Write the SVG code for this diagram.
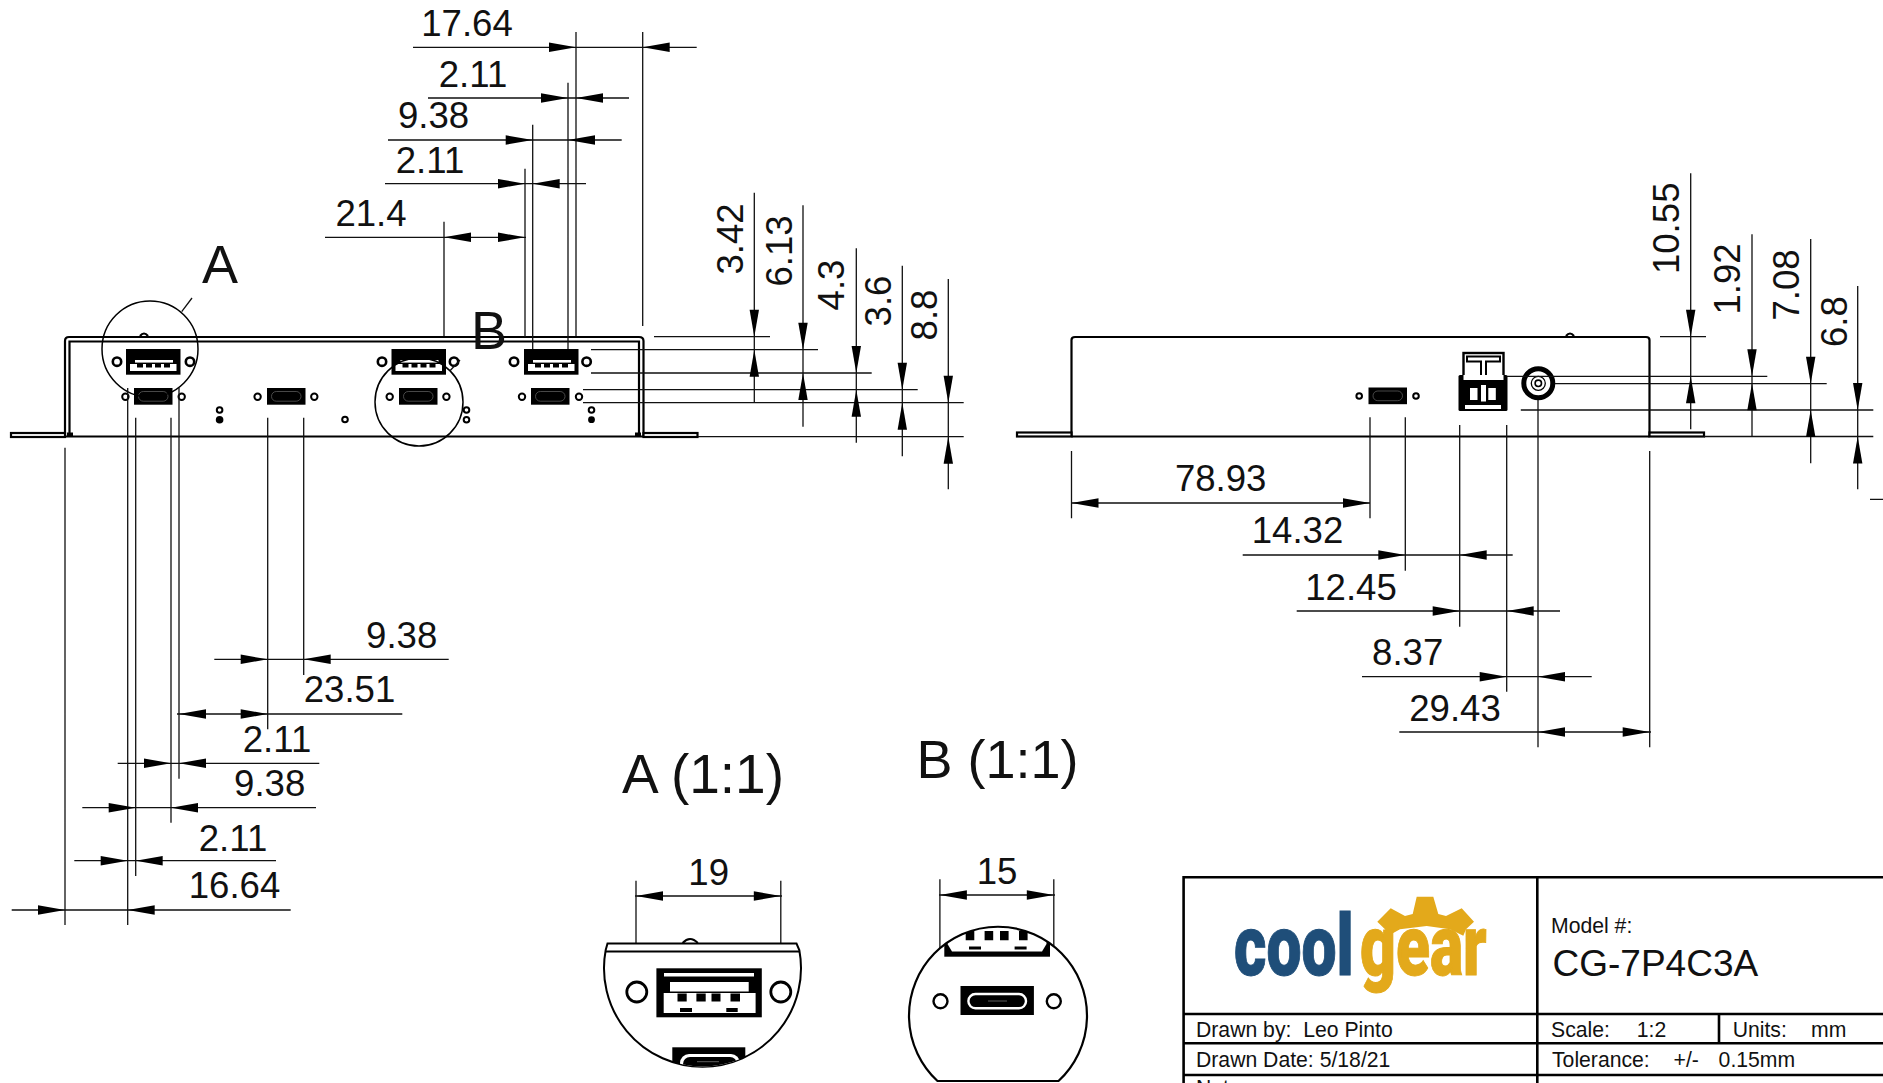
<svg xmlns="http://www.w3.org/2000/svg" width="1883" height="1083" viewBox="0 0 1883 1083">
<style>
text{font-family:"Liberation Sans",Arial,sans-serif;fill:#111;white-space:pre}
.d{font-size:36.6px;text-anchor:middle}
.b{font-size:54px}
.t{font-size:21.2px}
.l{stroke:#111;stroke-width:1.3;fill:none}
.k{stroke:#000;stroke-width:2.2;fill:none}
.w{stroke:#000;stroke-width:2.2;fill:#fff}
.h{stroke:#000;stroke-width:2.6;fill:#fff}
.hc{stroke:#000;stroke-width:2;fill:#fff}
.g{stroke:#000;stroke-width:2.6;fill:none}
</style>
<defs>
<path id="r" d="M0 0L-27 -4.7V4.7Z" fill="#000"/>
<path id="a" d="M0 0L27 -4.7V4.7Z" fill="#000"/>
<path id="n" d="M0 0L-4.7 -27H4.7Z" fill="#000"/>
<path id="u" d="M0 0L-4.7 27H4.7Z" fill="#000"/>
<g id="usba">
<rect width="54.5" height="25.7" fill="#000"/>
<rect x="9" y="11" width="38" height="2.6" fill="#fff"/>
<rect x="4" y="15" width="46.5" height="7" fill="#fff"/>
<path d="M11 15h6v3.5h-6zM20 15h6v3.5h-6zM29 15h6v3.5h-6zM38 15h6v3.5h-6z" fill="#000"/>
</g>
<g id="usbc">
<rect width="38.5" height="16.7" fill="#000"/>
<rect x="4.5" y="3.5" width="29.5" height="9.7" rx="4.8" fill="none" stroke="#666" stroke-width=".7"/>
</g>
<clipPath id="ca"><circle cx="702.5" cy="968" r="98.5"/></clipPath>
<clipPath id="cb"><circle cx="998" cy="1015.7" r="89"/></clipPath>
</defs>
<rect width="1883" height="1083" fill="#fff"/>

<g id="front-view">
<path class="k" d="M65 436V341Q65 337 69 337H639Q643.500 337 643.500 341V436"/>
<path class="k" d="M69.500 436V341.500H639V436"/>
<path class="k" d="M65 436.500H643.500" stroke-width="2.600"/>
<rect class="w" x="11" y="433" width="54" height="4"/>
<rect class="w" x="643.500" y="433" width="54" height="4"/>
<rect x="67" y="432.500" width="6" height="4" fill="#000"/>
<rect x="635" y="432.500" width="6" height="4" fill="#000"/>
<path class="k" d="M140 336Q144 331 148 336" stroke-width="1.200"/>
<use href="#usba" x="126" y="349"/><use href="#usba" x="391.500" y="349"/><use href="#usba" x="524" y="349"/>
<circle class="h" cx="117" cy="361.700" r="4.200"/><circle class="h" cx="190" cy="361.700" r="4.200"/>
<circle class="h" cx="382" cy="361.700" r="4.200"/><circle class="h" cx="454" cy="361.700" r="4.200"/>
<circle class="h" cx="514" cy="361.700" r="4.200"/><circle class="h" cx="586.600" cy="361.700" r="4.200"/>
<use href="#usbc" x="134" y="388"/><use href="#usbc" x="267" y="388"/><use href="#usbc" x="399" y="388"/><use href="#usbc" x="531" y="388"/>
<circle class="hc" cx="125.400" cy="396.700" r="3.200"/><circle class="hc" cx="181.700" cy="396.700" r="3.200"/>
<circle class="hc" cx="257.600" cy="396.700" r="3.200"/><circle class="hc" cx="314.300" cy="396.700" r="3.200"/>
<circle class="hc" cx="389.700" cy="396.700" r="3.200"/><circle class="hc" cx="446.400" cy="396.700" r="3.200"/>
<circle class="hc" cx="522" cy="396.700" r="3.200"/><circle class="hc" cx="579" cy="396.700" r="3.200"/>
<circle class="hc" cx="219.600" cy="410" r="2.800"/><circle cx="219.600" cy="419.700" r="3.800"/>
<circle class="hc" cx="345" cy="419.500" r="2.800"/>
<circle class="hc" cx="466.500" cy="410" r="2.800"/><circle class="hc" cx="466.500" cy="419.700" r="2.800"/>
<circle class="hc" cx="591.500" cy="410" r="2.800"/><circle cx="591.500" cy="419.700" r="3.400"/>
<circle cx="150" cy="349" r="48" fill="none" stroke="#000" stroke-width="1.500"/>
<circle cx="419" cy="402" r="44" fill="none" stroke="#000" stroke-width="1.500"/>
<path class="l" d="M181.700 311.700L192 298M450 370.700L460 360"/>
<text class="b" x="202" y="283">A</text>
<text class="b" x="471" y="349">B</text>
</g>

<g id="side-view">
<path class="k" d="M1071.500 436V340Q1071.500 337 1075 337H1646Q1649.500 337 1649.500 340V436" stroke-width="2.600"/>
<path class="k" d="M1071.500 436.500H1649.500" stroke-width="2.600"/>
<rect class="w" x="1017" y="432.500" width="54.500" height="4"/>
<rect class="w" x="1649.500" y="432.500" width="54.500" height="4"/>
<path class="k" d="M1566 336Q1570 331 1574 336" stroke-width="1.200"/>
<use href="#usbc" x="1368.500" y="387.500"/>
<circle class="hc" cx="1359.200" cy="396" r="2.800"/><circle class="hc" cx="1416" cy="396" r="2.800"/>
<g id="terminal">
<rect x="1463.500" y="353" width="40" height="30" fill="#fff" stroke="#000" stroke-width="2.400"/>
<path d="M1467 356.500H1500V361.500H1486V381H1481V361.500H1467Z" fill="#fff" stroke="#000" stroke-width="2"/>
<rect x="1458.500" y="375" width="49" height="36" rx="1.500" fill="#000"/>
<rect x="1463.500" y="375" width="40" height="5" fill="#fff"/>
<rect x="1470" y="388" width="7.500" height="12" fill="#fff"/>
<rect x="1488.300" y="388" width="7.500" height="12" fill="#fff"/>
<rect x="1481" y="385" width="5" height="16.500" fill="#fff"/>
<rect x="1465" y="405" width="36" height="4" fill="#fff"/>
</g>
<g id="jack">
<circle cx="1538.300" cy="383.300" r="14.500" fill="#fff" stroke="#000" stroke-width="5"/>
<circle cx="1538.300" cy="383.300" r="7" fill="#fff" stroke="#000" stroke-width="1.300"/>
<circle cx="1538.300" cy="383.300" r="3.200" fill="#fff" stroke="#000" stroke-width="1.600"/>
</g>
</g>

<g id="connectors">
<path class="l" d="M576 32V336M642.700 32V326M568 82.700V349M532.700 124.700V349M525 168.700V337M444 221.700V336
M413 47.300H696.700M428 98H629M388 140H621.700M385 183.700H586M325 237.300H526"/>
<use href="#r" x="576" y="47.300"/><use href="#a" x="642.700" y="47.300"/>
<use href="#r" x="568" y="98"/><use href="#a" x="576" y="98"/>
<use href="#r" x="532.700" y="140"/><use href="#a" x="568" y="140"/>
<use href="#r" x="525" y="183.700"/><use href="#a" x="532.700" y="183.700"/>
<use href="#a" x="444" y="237.300"/><use href="#r" x="525" y="237.300"/>

<path class="l" d="M654 336.700H770M591 349.700H818M591 373H871.700M583 389.700H917.700M583 402.700H963.700M698 436.700H963.700
M754.300 192.700V402.700M803 205.300V426.700M856.300 248.300V442.700M902.300 265.700V456.300M948.300 279V489.300"/>
<use href="#n" x="754.300" y="336.700"/><use href="#u" x="754.300" y="349.700"/>
<use href="#n" x="803" y="349.700"/><use href="#u" x="803" y="373"/>
<use href="#n" x="856.300" y="373"/><use href="#u" x="856.300" y="389.700"/>
<use href="#n" x="902.300" y="389.700"/><use href="#u" x="902.300" y="402.700"/>
<use href="#n" x="948.300" y="402.700"/><use href="#u" x="948.300" y="436.700"/>

<path class="l" d="M65 447.700V925M127.700 388V925M135.700 417.700V876M171 417.700V822.700M179 388V778.700M267.700 417.700V729.300M303.700 417.700V675
M214.300 659.300H448.700M177 714H402.300M117.700 763.300H319.300M82.300 807.700H316M74.300 860.700H276M11.700 910H290.700"/>
<use href="#r" x="267.700" y="659.300"/><use href="#a" x="303.700" y="659.300"/>
<use href="#a" x="179" y="714"/><use href="#r" x="267.700" y="714"/>
<use href="#r" x="171" y="763.300"/><use href="#a" x="179" y="763.300"/>
<use href="#r" x="135.700" y="807.700"/><use href="#a" x="171" y="807.700"/>
<use href="#r" x="127.700" y="860.700"/><use href="#a" x="135.700" y="860.700"/>
<use href="#r" x="65" y="910"/><use href="#a" x="127.700" y="910"/>

<path class="l" d="M1660 336.700H1706M1506.800 376.300H1767.300M1554.600 383.700H1826.700M1520.800 410H1873.300M1704 436.500H1873.300
M1690.700 173.300V429.300M1752 234.300V436.500M1810.700 239V463.300M1857.700 286V489.300M1870 499.300H1883"/>
<use href="#n" x="1690.700" y="336.700"/><use href="#u" x="1690.700" y="376.300"/>
<use href="#n" x="1752" y="376.300"/><use href="#u" x="1752" y="383.300"/>
<use href="#n" x="1810.700" y="383.700"/><use href="#u" x="1810.700" y="410"/>
<use href="#n" x="1857.700" y="410"/><use href="#u" x="1857.700" y="436.500"/>

<path class="l" d="M1071.500 451V518.300M1370 417.300V518.300M1405.300 417.300V570.700M1459.700 425V626.700M1506.700 425V691.700M1538 400V747.300M1649.700 451V747.300
M1071.500 503H1370M1242.700 555H1512.700M1296.700 611H1560M1362 676.700H1591.700M1399.300 732H1651"/>
<use href="#a" x="1071.500" y="503"/><use href="#r" x="1370" y="503"/>
<use href="#r" x="1405.300" y="555"/><use href="#a" x="1459.700" y="555"/>
<use href="#r" x="1459.700" y="611"/><use href="#a" x="1506.700" y="611"/>
<use href="#r" x="1506.700" y="676.700"/><use href="#a" x="1538" y="676.700"/>
<use href="#a" x="1538" y="732"/><use href="#r" x="1649.700" y="732"/>

<path class="l" d="M636 880.700V978.300M780.800 880.700V978.300M635 896H782M939.900 879.300V986.700M1053.800 879.300V986.700M939 895H1055"/>
<use href="#a" x="636" y="896"/><use href="#r" x="780.800" y="896"/>
<use href="#a" x="939.900" y="895"/><use href="#r" x="1053.800" y="895"/>
</g>

<g id="dimension-labels">
<text class="d" x="467" y="36">17.64</text>
<text class="d" x="473" y="87">2.11</text>
<text class="d" x="433.500" y="128">9.38</text>
<text class="d" x="430" y="173">2.11</text>
<text class="d" x="371" y="226">21.4</text>
<text class="d" transform="translate(743.300 239) rotate(-90)">3.42</text>
<text class="d" transform="translate(791.700 251) rotate(-90)">6.13</text>
<text class="d" transform="translate(844 285) rotate(-90)">4.3</text>
<text class="d" transform="translate(890.700 301) rotate(-90)">3.6</text>
<text class="d" transform="translate(936.700 315) rotate(-90)">8.8</text>
<text class="d" x="401.700" y="648">9.38</text>
<text class="d" x="349.500" y="702">23.51</text>
<text class="d" x="277" y="752">2.11</text>
<text class="d" x="269.700" y="796">9.38</text>
<text class="d" x="233" y="850.500">2.11</text>
<text class="d" x="234.500" y="898">16.64</text>
<text class="d" transform="translate(1679.300 228.300) rotate(-90)">10.55</text>
<text class="d" transform="translate(1740 279) rotate(-90)">1.92</text>
<text class="d" transform="translate(1799 285) rotate(-90)">7.08</text>
<text class="d" transform="translate(1846.700 321.700) rotate(-90)">6.8</text>
<text class="d" x="1220.700" y="491">78.93</text>
<text class="d" x="1297.500" y="543">14.32</text>
<text class="d" x="1351" y="600">12.45</text>
<text class="d" x="1407.700" y="665">8.37</text>
<text class="d" x="1455" y="720.500">29.43</text>
<text class="d" x="708.700" y="885">19</text>
<text class="d" x="997" y="883.500">15</text>
</g>

<g id="detail-a">
<text x="703" y="792.500" style="font-size:55px;text-anchor:middle">A (1:1)</text>
<path d="M607.500 943.500H796.500L799.300 950A98.500 98.500 0 1 1 605.700 950Z" fill="#fff" stroke="#000" stroke-width="2"/>
<path class="k" d="M606 951.500H799" stroke-width="2.400"/>
<path class="k" d="M682.600 943Q690 935 697.800 943" stroke-width="1.500"/>
<rect x="656.400" y="968.300" width="105.400" height="49" fill="#000"/>
<rect x="664" y="973" width="90" height="3.500" fill="#fff"/>
<rect x="670" y="982" width="78.700" height="9.500" fill="#fff"/>
<rect x="663.700" y="993" width="91.900" height="20" fill="#fff"/>
<path d="M677.500 993.500h9.200v8h-9.200zM696.400 993.500h9.300v8h-9.300zM711.500 993.500h9v8h-9zM730.500 993.500h9.500v8h-9.500zM680 1008h12v4h-12zM726.300 1008h11.400v4h-11.400z" fill="#000"/>
<circle cx="636.800" cy="992" r="10" fill="#fff" stroke="#000" stroke-width="2.800"/>
<circle cx="780.800" cy="992" r="10" fill="#fff" stroke="#000" stroke-width="2.800"/>
<g clip-path="url(#ca)">
<rect x="672.300" y="1047.300" width="73" height="25" fill="#000"/>
<rect x="680" y="1054" width="60" height="20" rx="9" fill="#fff"/>
<rect x="683" y="1057" width="54" height="16" rx="7" fill="#000"/>
<path d="M697 1061.700H719" stroke="#777" stroke-width=".8"/>
</g>
</g>

<g id="detail-b">
<text x="997.500" y="778" style="font-size:54px;text-anchor:middle">B (1:1)</text>
<path d="M937.500 1081H1058.500A89 89 0 1 0 937.500 1081Z" fill="#fff"/>
<g clip-path="url(#cb)">
<rect x="944.300" y="920" width="105.700" height="36.700" fill="#000"/>
<path d="M947.500 920H1046.500V944L1042 951.500H952L947.500 944Z" fill="#fff"/>
<path d="M965.700 931h8.600v9.300h-8.600zM984.600 931h8.600v9.300h-8.600zM1000 931h8.600v9.300h-8.600zM1019 931h8.600v9.300h-8.600zM969 946.500h12v3h-12zM1014.600 946.500h12v3h-12z" fill="#000"/>
</g>
<path d="M937.500 1081H1058.500A89 89 0 1 0 937.500 1081Z" fill="none" stroke="#000" stroke-width="2.200"/>
<rect x="960.500" y="986" width="73.400" height="29" fill="#000"/>
<rect x="968.400" y="994" width="57.600" height="14.300" rx="7" fill="#000" stroke="#fff" stroke-width="2.400"/>
<path d="M988 1001H1007" stroke="#777" stroke-width=".8"/>
<circle cx="940.500" cy="1001.300" r="7" fill="#fff" stroke="#000" stroke-width="2.400"/>
<circle cx="1053.800" cy="1001.300" r="7" fill="#fff" stroke="#000" stroke-width="2.400"/>
</g>

<g id="title-block">
<path class="g" d="M1883 877.300H1183.600V1083M1537.300 877.300V1083M1183.600 1014H1883M1183.600 1043.300H1883M1183.600 1075H1883M1719 1014V1043.300"/>
<g id="logo">
<path d="M1377.300 921.700L1390.700 908.300L1405 916L1412.700 914L1416.700 896.700H1433.300L1438.300 914L1446 916L1461.700 908.300L1474 921.700L1466 929.300L1463.300 935.700L1450 929.300L1426.700 926L1400 929.300L1388.300 935.700L1385 929.300Z" fill="#e3a91b"/>
<text transform="translate(1234 975) scale(.734 1)" style="font-family:Roboto,sans-serif;font-weight:900;font-size:85px;fill:#1f4e79;stroke:#1f4e79;stroke-width:1">cool</text>
<text transform="translate(1360 975) scale(.734 1)" style="font-family:Roboto,sans-serif;font-weight:900;font-size:85px;fill:#e3a91b;stroke:#e3a91b;stroke-width:1">gear</text>
</g>
<text class="t" x="1551" y="932.700">Model #:</text>
<text x="1552.500" y="976" style="font-size:37px">CG-7P4C3A</text>
<text class="t" x="1196" y="1036.700">Drawn by:  Leo Pinto</text>
<text class="t" x="1196" y="1066.700">Drawn Date: 5/18/21</text>
<text class="t" x="1551" y="1036.700">Scale:</text><text class="t" x="1636.800" y="1036.700">1:2</text>
<text class="t" x="1732.700" y="1036.700">Units:</text><text class="t" x="1811" y="1036.700">mm</text>
<text class="t" x="1552" y="1066.700">Tolerance:</text><text class="t" x="1673.600" y="1066.700">+/-</text><text class="t" x="1718.600" y="1066.700">0.15mm</text>
<text class="t" x="1196" y="1095">Notes:</text>
</g>
</svg>
